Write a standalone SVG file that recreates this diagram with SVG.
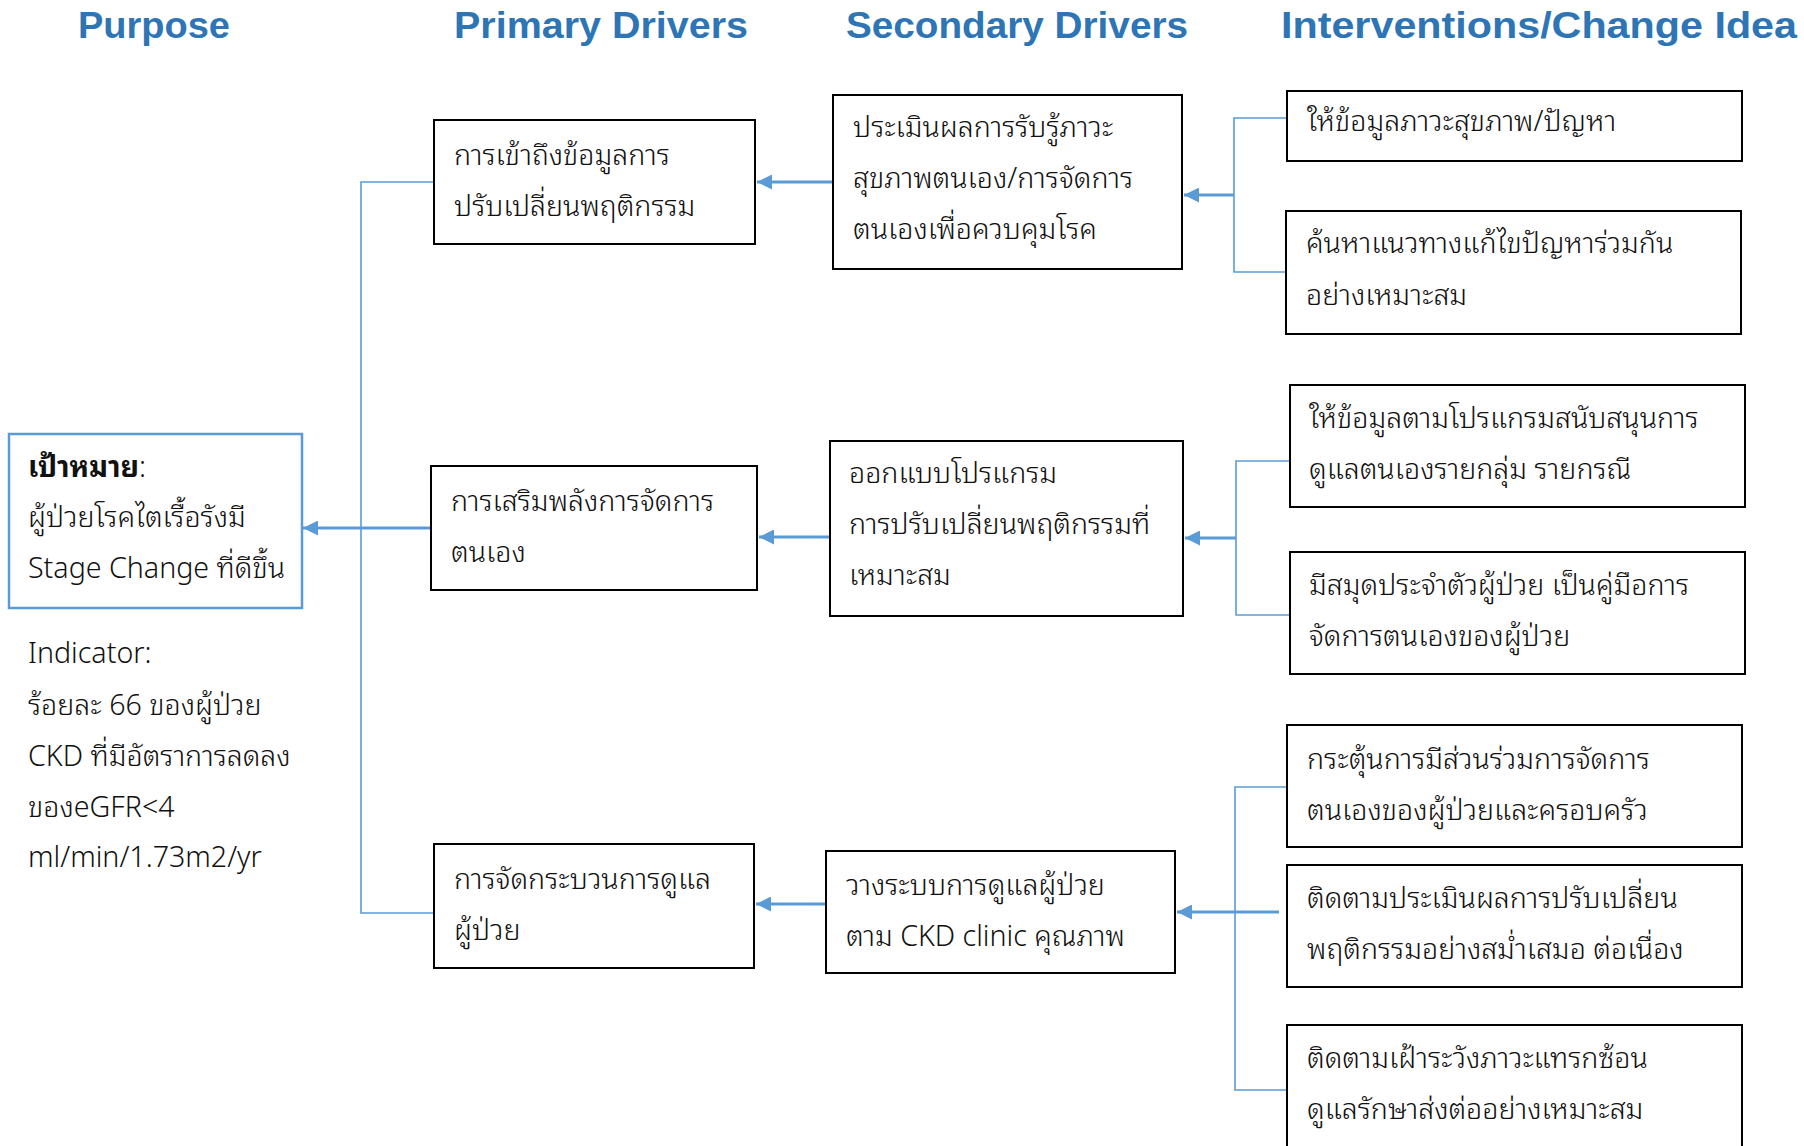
<svg xmlns="http://www.w3.org/2000/svg" width="1804" height="1146" viewBox="0 0 1804 1146">
  <defs>
    <marker id="arrow" viewBox="0 0 10 10" refX="10" refY="5" markerWidth="5" markerHeight="5" orient="auto" markerUnits="strokeWidth">
      <path d="M0,0 L10,5 L0,10 z" fill="#5B9BD5"/>
    </marker>
    <style>
      .head { font-family: "Liberation Sans", "DejaVu Sans", sans-serif; font-weight: bold; font-size: 37px; fill: #2E75B6; }
      .box { fill: #FFFFFF; stroke: #000000; stroke-width: 2; }
      .goal { fill: #FFFFFF; stroke: #5B9BD5; stroke-width: 2.5; }
      .t { font-family: "Noto Sans", "Noto Sans Thai Looped", "Noto Serif Thai", "Noto Sans Thai", "DejaVu Sans", sans-serif; font-size: 28.6px; font-weight: 300; fill: #111111; }
      .b { font-weight: bold; }
      .wire { fill: none; stroke: #5B9BD5; stroke-width: 1.6; }
      .arr { fill: none; stroke: #5B9BD5; stroke-width: 3; marker-end: url(#arrow); }
    </style>
  </defs>

  <rect width="1804" height="1146" fill="#FFFFFF"/>

  <!-- column headings -->
  <g id="headings">
    <text class="head" x="78" y="38" textLength="152" lengthAdjust="spacingAndGlyphs">Purpose</text>
    <text class="head" x="454" y="38" textLength="294" lengthAdjust="spacingAndGlyphs">Primary Drivers</text>
    <text class="head" x="846" y="38" textLength="342" lengthAdjust="spacingAndGlyphs">Secondary Drivers</text>
    <text class="head" x="1281" y="38" textLength="516" lengthAdjust="spacingAndGlyphs">Interventions/Change Idea</text>
  </g>

  <!-- connectors -->
  <g id="connectors">
    <!-- primary drivers to purpose -->
    <path class="wire" d="M434,182 H361 V913 H434"/>
    <line class="arr" x1="431" y1="528" x2="303" y2="528"/>
    <!-- secondary to primary -->
    <line class="arr" x1="833" y1="182" x2="757" y2="182"/>
    <line class="arr" x1="830" y1="537" x2="759" y2="537"/>
    <line class="arr" x1="826" y1="904" x2="756" y2="904"/>
    <!-- interventions to secondary -->
    <path class="wire" d="M1287,118 H1234 V272 H1286"/>
    <line class="arr" x1="1234" y1="195" x2="1184" y2="195"/>
    <path class="wire" d="M1290,461 H1236 V615 H1290"/>
    <line class="arr" x1="1236" y1="538" x2="1185" y2="538"/>
    <path class="wire" d="M1287,787 H1235 V1090 H1287"/>
    <line class="arr" x1="1279" y1="912" x2="1177" y2="912"/>
  </g>

  <!-- purpose -->
  <g id="purpose">
    <rect class="goal" x="9" y="434" width="293" height="174"/>
    <text class="t" x="28" y="477"><tspan class="b">เป้าหมาย</tspan>:</text>
    <text class="t" x="28" y="527">ผู้ป่วยโรคไตเรื้อรังมี</text>
    <text class="t" x="28" y="578">Stage Change ที่ดีขึ้น</text>
  </g>
  <g id="indicator">
    <text class="t" x="28" y="663">Indicator:</text>
    <text class="t" x="28" y="715">ร้อยละ 66 ของผู้ป่วย</text>
    <text class="t" x="28" y="766">CKD ที่มีอัตราการลดลง</text>
    <text class="t" x="28" y="817">ของeGFR&lt;4</text>
    <text class="t" x="28" y="867">ml/min/1.73m2/yr</text>
  </g>

  <!-- primary drivers -->
  <g id="primary-1">
    <rect class="box" x="434" y="120" width="321" height="124"/>
    <text class="t" x="454" y="165">การเข้าถึงข้อมูลการ</text>
    <text class="t" x="454" y="216">ปรับเปลี่ยนพฤติกรรม</text>
  </g>
  <g id="primary-2">
    <rect class="box" x="431" y="466" width="326" height="124"/>
    <text class="t" x="451" y="511">การเสริมพลังการจัดการ</text>
    <text class="t" x="451" y="562">ตนเอง</text>
  </g>
  <g id="primary-3">
    <rect class="box" x="434" y="844" width="320" height="124"/>
    <text class="t" x="454" y="889">การจัดกระบวนการดูแล</text>
    <text class="t" x="454" y="940">ผู้ป่วย</text>
  </g>

  <!-- secondary drivers -->
  <g id="secondary-1">
    <rect class="box" x="833" y="95" width="349" height="174"/>
    <text class="t" x="853" y="137">ประเมินผลการรับรู้ภาวะ</text>
    <text class="t" x="853" y="188">สุขภาพตนเอง/การจัดการ</text>
    <text class="t" x="853" y="239">ตนเองเพื่อควบคุมโรค</text>
  </g>
  <g id="secondary-2">
    <rect class="box" x="830" y="441" width="353" height="175"/>
    <text class="t" x="849" y="483">ออกแบบโปรแกรม</text>
    <text class="t" x="849" y="534">การปรับเปลี่ยนพฤติกรรมที่</text>
    <text class="t" x="849" y="585">เหมาะสม</text>
  </g>
  <g id="secondary-3">
    <rect class="box" x="826" y="851" width="349" height="122"/>
    <text class="t" x="846" y="895">วางระบบการดูแลผู้ป่วย</text>
    <text class="t" x="846" y="946">ตาม CKD clinic คุณภาพ</text>
  </g>

  <!-- interventions / change ideas -->
  <g id="idea-1">
    <rect class="box" x="1287" y="91" width="455" height="70"/>
    <text class="t" x="1307" y="131">ให้ข้อมูลภาวะสุขภาพ/ปัญหา</text>
  </g>
  <g id="idea-2">
    <rect class="box" x="1286" y="211" width="455" height="123"/>
    <text class="t" x="1306" y="253">ค้นหาแนวทางแก้ไขปัญหาร่วมกัน</text>
    <text class="t" x="1306" y="305">อย่างเหมาะสม</text>
  </g>
  <g id="idea-3">
    <rect class="box" x="1290" y="385" width="455" height="122"/>
    <text class="t" x="1309" y="428">ให้ข้อมูลตามโปรแกรมสนับสนุนการ</text>
    <text class="t" x="1309" y="479">ดูแลตนเองรายกลุ่ม รายกรณี</text>
  </g>
  <g id="idea-4">
    <rect class="box" x="1290" y="552" width="455" height="122"/>
    <text class="t" x="1309" y="595">มีสมุดประจำตัวผู้ป่วย เป็นคู่มือการ</text>
    <text class="t" x="1309" y="646">จัดการตนเองของผู้ป่วย</text>
  </g>
  <g id="idea-5">
    <rect class="box" x="1287" y="725" width="455" height="122"/>
    <text class="t" x="1307" y="769">กระตุ้นการมีส่วนร่วมการจัดการ</text>
    <text class="t" x="1307" y="820">ตนเองของผู้ป่วยและครอบครัว</text>
  </g>
  <g id="idea-6">
    <rect class="box" x="1287" y="865" width="455" height="122"/>
    <text class="t" x="1307" y="908">ติดตามประเมินผลการปรับเปลี่ยน</text>
    <text class="t" x="1307" y="959">พฤติกรรมอย่างสม่ำเสมอ ต่อเนื่อง</text>
  </g>
  <g id="idea-7">
    <rect class="box" x="1287" y="1025" width="455" height="140"/>
    <text class="t" x="1307" y="1068">ติดตามเฝ้าระวังภาวะแทรกซ้อน</text>
    <text class="t" x="1307" y="1119">ดูแลรักษาส่งต่ออย่างเหมาะสม</text>
  </g>
</svg>
